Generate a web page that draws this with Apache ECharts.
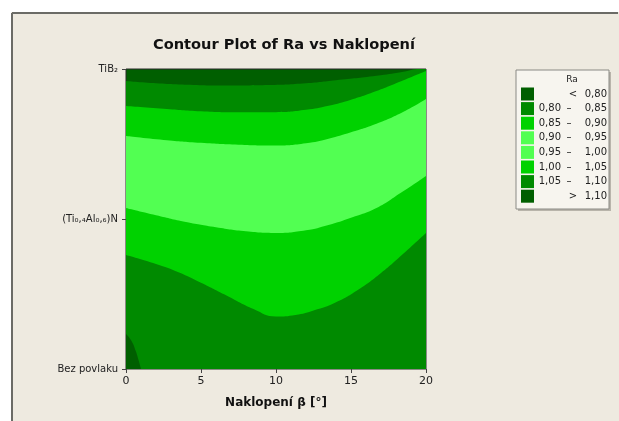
<!DOCTYPE html>
<html>
<head>
<meta charset="utf-8">
<script src="https://cdn.jsdelivr.net/npm/echarts@6/dist/echarts.min.js"></script>
<style>
  html, body { margin: 0; padding: 0; background: #ffffff; }
  #chart { width: 619px; height: 421px; }
</style>
</head>
<body>
<div id="chart"></div>
<script>
// Naklopení β [°] axis ticks and coating categories on the vertical axis
const xTicks = [0, 5, 10, 15, 20];
const coatingLabels = ['Bez povlaku', '(Ti₀,₄Al₀,₆)N', 'TiB₂'];

// Contour band boundaries of Ra, as [naklopení, coating position] pairs, top to bottom
const boundaryTop = [[0, 1.92], [2, 1.905], [4.5, 1.894], [7, 1.89], [9.5, 1.893], [12, 1.905], [14, 1.925], [16.7, 1.955], [18.4, 1.98], [19.6, 2.0], [20, 2.0]];
const boundaryUpperMid = [[0, 1.753], [2.5, 1.735], [5, 1.718], [7.5, 1.711], [10, 1.712], [12, 1.728], [13.5, 1.755], [15, 1.795], [16.7, 1.853], [18.5, 1.925], [20, 1.987]];
const boundaryUpperLight = [[0, 1.553], [2.5, 1.527], [5, 1.508], [7.5, 1.495], [10, 1.49], [12, 1.505], [13.5, 1.535], [15, 1.578], [16.7, 1.635], [18.5, 1.715], [20, 1.80]];
const boundaryLowerLight = [[0, 1.073], [2, 1.025], [4, 0.98], [6, 0.945], [8, 0.918], [10, 0.907], [12, 0.925], [13.5, 0.96], [15, 1.008], [16.7, 1.073], [18.3, 1.173], [20, 1.287]];
const boundaryLowerMid = [[0, 0.76], [2, 0.7], [3.5, 0.645], [5, 0.575], [6.7, 0.49], [8.5, 0.4], [10, 0.35], [11.3, 0.36], [12.5, 0.39], [14, 0.445], [15.5, 0.53], [17, 0.64], [18.5, 0.77], [20, 0.907]];
const boundaryCorner = [[0, 0.233], [0.35, 0.19], [0.65, 0.12], [0.85, 0.055], [1.0, 0.0]];

// Legend of Ra levels
const raLevels = [['<', '0,80'], ['0,80', '0,85'], ['0,85', '0,90'], ['0,90', '0,95'],
                  ['0,95', '1,00'], ['1,00', '1,05'], ['1,05', '1,10'], ['>', '1,10']];

const C_DARKEST = '#005f00';
const C_DARK = '#008a00';
const C_MID = '#00d200';
const C_LIGHT = '#52ff52';
const levelColors = [C_DARKEST, C_DARK, C_MID, C_LIGHT, C_LIGHT, C_MID, C_DARK, C_DARKEST];

const FONT = 'DejaVu Sans';
const chart = echarts.init(document.getElementById('chart'), null, { renderer: 'canvas' });

function band(data, color) {
  return {
    type: 'line', data: data, smooth: 0.5, symbol: 'none', silent: true,
    lineStyle: { width: 0 }, areaStyle: { color: color, opacity: 1, origin: 'start' }
  };
}

const legendGraphics = [];
const lx = 516, ly = 70;
legendGraphics.push({ type: 'rect', shape: { x: lx + 2, y: ly + 2, width: 93, height: 139 }, style: { fill: '#b8b4aa' }, silent: true });
legendGraphics.push({ type: 'rect', shape: { x: lx, y: ly, width: 93, height: 139 }, style: { fill: '#f7f5ef', stroke: '#8a8a85', lineWidth: 1 }, silent: true });
legendGraphics.push({ type: 'text', x: 572, y: 80, style: { text: 'Ra', font: '9px ' + FONT, fill: '#222', align: 'center', verticalAlign: 'middle' } });
raLevels.forEach(function (lv, i) {
  const cy = 94 + i * 14.6;
  legendGraphics.push({ type: 'rect', shape: { x: 521, y: cy - 6.5, width: 13, height: 13 }, style: { fill: levelColors[i] }, silent: true });
  if (lv[0] === '<' || lv[0] === '>') {
    legendGraphics.push({ type: 'text', x: 573, y: cy, style: { text: lv[0], font: '10px ' + FONT, fill: '#222', align: 'center', verticalAlign: 'middle' } });
  } else {
    legendGraphics.push({ type: 'text', x: 561, y: cy, style: { text: lv[0], font: '10px ' + FONT, fill: '#222', align: 'right', verticalAlign: 'middle' } });
    legendGraphics.push({ type: 'text', x: 569, y: cy, style: { text: '–', font: '10px ' + FONT, fill: '#222', align: 'center', verticalAlign: 'middle' } });
  }
  legendGraphics.push({ type: 'text', x: 607, y: cy, style: { text: lv[1], font: '10px ' + FONT, fill: '#222', align: 'right', verticalAlign: 'middle' } });
});

const option = {
  backgroundColor: '#ffffff',
  animation: false,
  title: {
    text: 'Contour Plot of Ra vs Naklopení',
    left: 279, top: 33, textAlign: 'center',
    textStyle: { fontFamily: FONT, fontSize: 14.6, fontWeight: 'bold', color: '#111' }
  },
  graphic: [
    { type: 'rect', z: -10, shape: { x: 11, y: 12, width: 608, height: 409 }, style: { fill: '#eeeae0' }, silent: true },
    { type: 'line', z: -9, shape: { x1: 12, y1: 13, x2: 618, y2: 13 }, style: { stroke: '#6b6b66', lineWidth: 2 }, silent: true },
    { type: 'line', z: -9, shape: { x1: 12, y1: 13, x2: 12, y2: 421 }, style: { stroke: '#6b6b66', lineWidth: 2 }, silent: true }
  ].concat(legendGraphics),
  grid: {
    left: 126, top: 69, width: 300, height: 300,
    show: true, backgroundColor: C_DARKEST, borderColor: '#2a2a2a', borderWidth: 1
  },
  xAxis: {
    type: 'value', min: 0, max: 20, interval: 5,
    name: 'Naklopení β [°]', nameLocation: 'middle', nameGap: 28,
    nameTextStyle: { fontFamily: FONT, fontSize: 12, fontWeight: 'bold', color: '#111' },
    axisLine: { show: false },
    axisTick: { show: true, length: 4, lineStyle: { color: '#444' } },
    axisLabel: { fontFamily: FONT, fontSize: 11, color: '#222', margin: 7 },
    splitLine: { show: false }
  },
  yAxis: {
    type: 'value', min: 0, max: 2, interval: 1,
    axisLine: { show: false },
    axisTick: { show: true, length: 4, lineStyle: { color: '#444' } },
    axisLabel: {
      fontFamily: FONT, fontSize: 10, color: '#222', margin: 8,
      formatter: function (v) { return coatingLabels[Math.round(v)] || ''; }
    },
    splitLine: { show: false }
  },
  series: [
    band(boundaryTop, C_DARK),
    band(boundaryUpperMid, C_MID),
    band(boundaryUpperLight, C_LIGHT),
    band(boundaryLowerLight, C_MID),
    band(boundaryLowerMid, C_DARK),
    band(boundaryCorner, C_DARKEST)
  ]
};
chart.setOption(option);
</script>
</body>
</html>
